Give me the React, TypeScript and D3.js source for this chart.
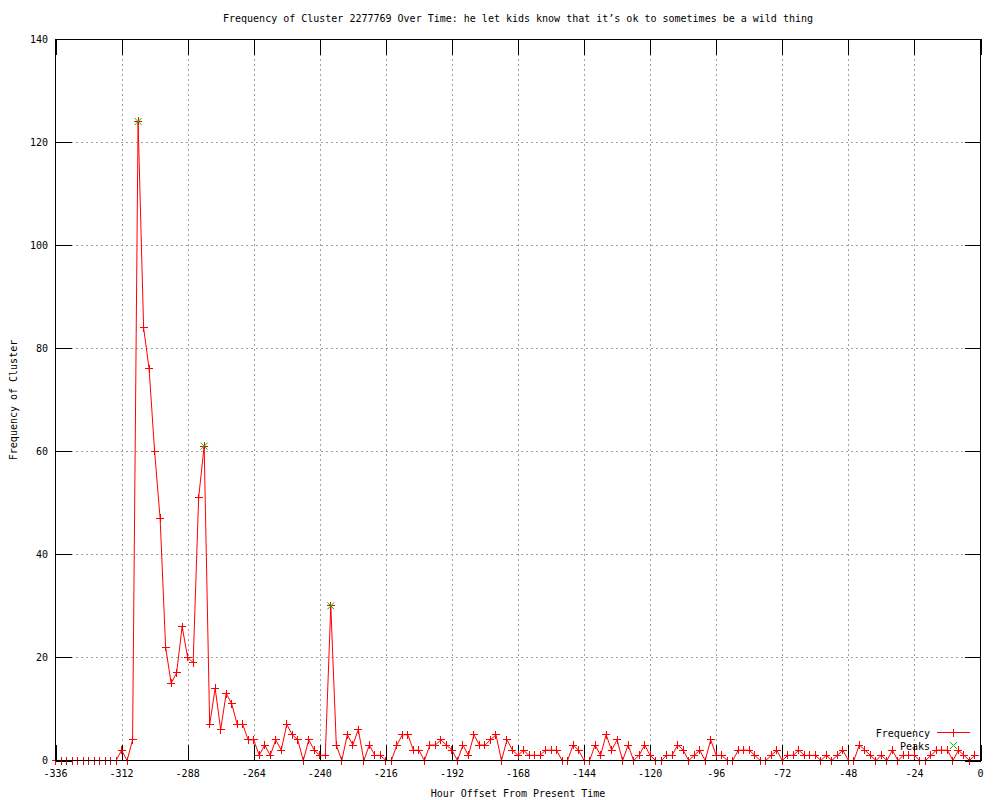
import React from "react";
import * as d3 from "d3";

const titleText =
  "Frequency of Cluster 2277769 Over Time: he let kids know that it’s ok to sometimes be a wild thing";
const xLabelText = "Hour Offset From Present Time";
const yLabelText = "Frequency of Cluster";

// hours sampled every 2 hours from -336 to -2
const hours: number[] = d3.range(-336, 0, 2);

const frequency: number[] = [
  0, 0, 0, 0, 0, 0, 0, 0, 0, 0, 0, 0, // -336 .. -314
  2, 0, 4, 124, 84, 76, 60, 47, 22, 15, 17, 26, 20, 19, 51, 61, // -312 .. -282
  7, 14, 6, 13, 11, 7, 7, 4, 4, 1, 3, 1, 4, 2, 7, 5, 4, 0, 4, 2, 1, 1, // -280 .. -238
  30, 3, 0, 5, 3, 6, 0, 3, 1, 1, 0, 0, 3, 5, 5, 2, 2, // -236 .. -204
  0, 3, 3, 4, 3, 2, 0, 3, 1, 5, 3, 3, 4, 5, 0, 4, 2, // -202 .. -170
  1, 2, 1, 1, 1, 2, 2, 2, 0, 0, 3, 2, 0, 0, 3, 1, 5, 2, 4, 0, 3, 0, 1, 3, // -168 .. -122
  1, 0, 0, 1, 1, 3, 2, 0, 1, 2, 0, 4, 1, 1, 0, 0, 2, 2, 2, 1, // -120 .. -82
  0, 0, 1, 2, 0, 1, 1, 2, 1, 1, 1, 0, 1, 0, 1, 2, // -80 .. -50
  0, 0, 3, 2, 1, 0, 1, 0, 2, 0, 1, 1, 1, 0, 0, 1, 2, 2, 2, 0, 2, 1, 0, 1, // -48 .. -2
];

const peakHours: number[] = [-306, -282, -236];
const peakValues: number[] = [124, 61, 30];

const xTicks: number[] = [-336, -312, -288, -264, -240, -216, -192, -168, -144, -120, -96, -72, -48, -24, 0];
const yTicks: number[] = [0, 20, 40, 60, 80, 100, 120, 140];

const W = 1000;
const H = 800;
const left = 55.5;
const right = 980.5;
const top = 39;
const bottom = 760.5;

const FONT = "'DejaVu Sans Mono', 'Liberation Mono', monospace";
const RED = "#ff0000";
const GREEN = "#00c000";
const GRID = "#a0a0a0";
const TICK = 16;

export default function App() {
  const x = d3.scaleLinear().domain([-336, 0]).range([left, right]);
  const y = d3.scaleLinear().domain([0, 140]).range([bottom, top]);

  const data = hours.map((h, i) => ({ h, v: frequency[i] }));
  const line = d3
    .line<{ h: number; v: number }>()
    .x((d) => x(d.h))
    .y((d) => y(d.v));

  const plus = (cx: number, cy: number, s = 4) =>
    `M${cx - s},${cy}H${cx + s}M${cx},${cy - s}V${cy + s}`;
  const cross = (cx: number, cy: number, s = 3.5) =>
    `M${cx - s},${cy - s}L${cx + s},${cy + s}M${cx - s},${cy + s}L${cx + s},${cy - s}`;

  const markerPath = data.map((d) => plus(x(d.h), y(d.v))).join("");
  const peakPath = peakHours.map((h, i) => cross(x(h), y(peakValues[i]))).join("");

  const px = (v: number) => Math.round(v) + 0.5;

  return (
    <svg width={W} height={H} style={{ position: "absolute", left: 0, top: 0, background: "#fff" }}>
      <rect x={0} y={0} width={W} height={H} fill="#fff" />
      {/* grid */}
      <g stroke={GRID} strokeWidth={1} strokeDasharray="2,3" shapeRendering="crispEdges">
        {xTicks
          .filter((t) => t !== -336 && t !== 0)
          .map((t) => (
            <line key={"gx" + t} x1={px(x(t))} x2={px(x(t))} y1={top} y2={bottom} />
          ))}
        {yTicks
          .filter((t) => t !== 0 && t !== 140)
          .map((t) => (
            <line key={"gy" + t} x1={left} x2={right} y1={px(y(t))} y2={px(y(t))} />
          ))}
      </g>
      {/* ticks */}
      <g stroke="#000" strokeWidth={1} shapeRendering="crispEdges">
        {xTicks.map((t) => (
          <g key={"tx" + t}>
            <line x1={px(x(t))} x2={px(x(t))} y1={bottom} y2={bottom - TICK} />
            <line x1={px(x(t))} x2={px(x(t))} y1={top} y2={top + TICK} />
          </g>
        ))}
        {yTicks.map((t) => (
          <g key={"ty" + t}>
            <line x1={left} x2={left + TICK} y1={px(y(t))} y2={px(y(t))} />
            <line x1={right} x2={right - TICK} y1={px(y(t))} y2={px(y(t))} />
          </g>
        ))}
      </g>
      {/* data */}
      <path d={line(data) || ""} fill="none" stroke={RED} strokeWidth={1} />
      <path d={markerPath} fill="none" stroke={RED} strokeWidth={1} shapeRendering="crispEdges" />
      <path d={peakPath} fill="none" stroke={GREEN} strokeWidth={1} />
      {/* border */}
      <rect
        x={left}
        y={px(top)}
        width={right - left}
        height={bottom - px(top)}
        fill="none"
        stroke="#000"
        strokeWidth={1}
        shapeRendering="crispEdges"
      />
      {/* tick labels */}
      <g fontFamily={FONT} fontSize={10} fill="#000">
        {xTicks.map((t) => (
          <text key={"lx" + t} x={x(t)} y={777} textAnchor="middle">
            {t}
          </text>
        ))}
        {yTicks.map((t) => (
          <text key={"ly" + t} x={48} y={y(t) + 3.5} textAnchor="end">
            {t}
          </text>
        ))}
        <text x={(left + right) / 2} y={22} textAnchor="middle">
          {titleText}
        </text>
        <text x={(left + right) / 2} y={797} textAnchor="middle">
          {xLabelText}
        </text>
        <text transform={`translate(17,400) rotate(-90)`} textAnchor="middle">
          {yLabelText}
        </text>
        {/* legend */}
        <text x={930} y={736.5} textAnchor="end">
          Frequency
        </text>
        <text x={930} y={749.5} textAnchor="end">
          Peaks
        </text>
      </g>
      <g shapeRendering="crispEdges">
        <line x1={937} x2={970} y1={732.5} y2={732.5} stroke={RED} strokeWidth={1} />
        <path d={plus(953.5, 732.5)} stroke={RED} strokeWidth={1} />
      </g>
      <path d={cross(953.5, 745.5)} stroke={GREEN} strokeWidth={1} fill="none" />
    </svg>
  );
}
